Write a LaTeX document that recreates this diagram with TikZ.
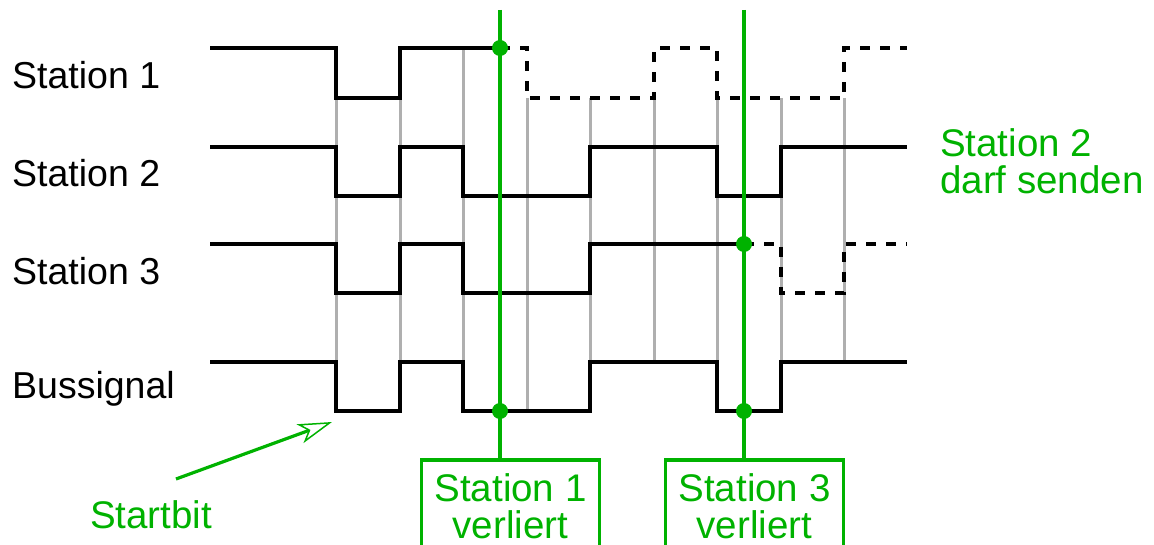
\documentclass[tikz,border=0pt]{standalone}
\usepackage{fontspec}
\setmainfont{Liberation Sans}
\usetikzlibrary{arrows.meta}
\definecolor{grn}{RGB}{0,178,0}
\definecolor{gry}{RGB}{175,175,175}
\begin{document}
\begin{tikzpicture}[x=1pt,y=-1pt,
  sig/.style={line width=3.4pt,black},
  sigdash/.style={sig,dash pattern=on 10pt off 10pt},
  gridline/.style={line width=3pt,gry},
  markline/.style={line width=3.2pt,grn},
  dot/.style={circle,fill=grn,inner sep=0pt,minimum size=16pt},
  lbl/.style={font=\fontsize{37.5}{37}\selectfont,anchor=base west,inner sep=0pt},
  gfont/.style={font=\fontsize{38.5}{37}\selectfont,text=grn},
  glbl/.style={gfont,inner sep=0pt,align=left,anchor=north west},
  losstext/.style={gfont,align=center,minimum width=177.5pt,inner xsep=0pt,inner ysep=0pt,anchor=north},
  boxline/.style={draw=grn,line width=3.2pt},
  startarrow/.style={markline,-{Stealth[open,length=34pt,width=20pt,inset=9pt,line width=1.5pt]}}]
\clip (0,0) rectangle (1154,545);
\coordinate (below) at (0,560);
% grey bit boundaries
\foreach \x/\a/\b in {336/98/362,400/98/362,463/48/362,527/98/411,590/98/362,654/98/362,717/98/362,781/98/362,844/98/362}
  \draw[gridline] (\x,\a) -- (\x,\b);
% labels
\node[lbl] (l1) at (12,89) {Station 1};
\node[lbl] (l2) at (12,187) {Station 2};
\node[lbl] (l3) at (12,285) {Station 3};
\node[lbl] (lb) at (12,398) {Bussignal};
% station 1
\draw[sig] (210,48) -- (336,48) -- (336,98) -- (400,98) -- (400,48) -- (500,48);
\draw[sigdash] (500,48) -- (527,48) -- (527,98) -- (654,98) -- (654,48) -- (717,48) -- (717,98) -- (844,98) -- (844,48) -- (907,48);
% station 2
\draw[sig] (210,147) -- (336,147) -- (336,196) -- (400,196) -- (400,147) -- (463,147) -- (463,196) -- (590,196) -- (590,147) -- (717,147) -- (717,196) -- (781,196) -- (781,147) -- (907,147);
% station 3
\draw[sig] (210,244) -- (336,244) -- (336,293) -- (400,293) -- (400,244) -- (463,244) -- (463,293) -- (590,293) -- (590,244) -- (744,244);
\draw[sigdash] (744,244) -- (781,244) -- (781,293) -- (844,293) -- (844,244) -- (907,244);
% bus
\draw[sig] (210,362) -- (336,362) -- (336,411) -- (400,411) -- (400,362) -- (463,362) -- (463,411) -- (590,411) -- (590,362) -- (717,362) -- (717,411) -- (781,411) -- (781,362) -- (907,362);
% loss boxes (open at the bottom edge of the picture)
\node[losstext] (v1) at (510.5,473) {Station 1\\verliert};
\node[losstext] (v3) at (754.5,473) {Station 3\\verliert};
\coordinate (v1top) at ([yshift=13pt]v1.north);
\coordinate (v3top) at ([yshift=13pt]v3.north);
\draw[boxline] (v1.west |- below) -- (v1.west |- v1top) -- (v1.east |- v1top) -- (v1.east |- below);
\draw[boxline] (v3.west |- below) -- (v3.west |- v3top) -- (v3.east |- v3top) -- (v3.east |- below);
\coordinate (g1top) at (500,10);
\coordinate (g3top) at (744,10);
\draw[markline] (g1top) -- (v1top -| g1top);
\draw[markline] (g3top) -- (v3top -| g3top);
\node[dot] (d1a) at (500,48) {};
\node[dot] (d1b) at (500,411) {};
\node[dot] (d3a) at (744,244) {};
\node[dot] (d3b) at (744,411) {};
% station 2 wins
\node[glbl] (win) at (940,128) {Station 2\\darf senden};
% start bit
\node[gfont,anchor=base west,inner sep=0pt] (sb) at (90,528) {Startbit};
\coordinate (sbtail) at (176,479);
\coordinate (sbtip) at (332,422);
\draw[startarrow] (sbtail) -- (sbtip);
\end{tikzpicture}
\end{document}
